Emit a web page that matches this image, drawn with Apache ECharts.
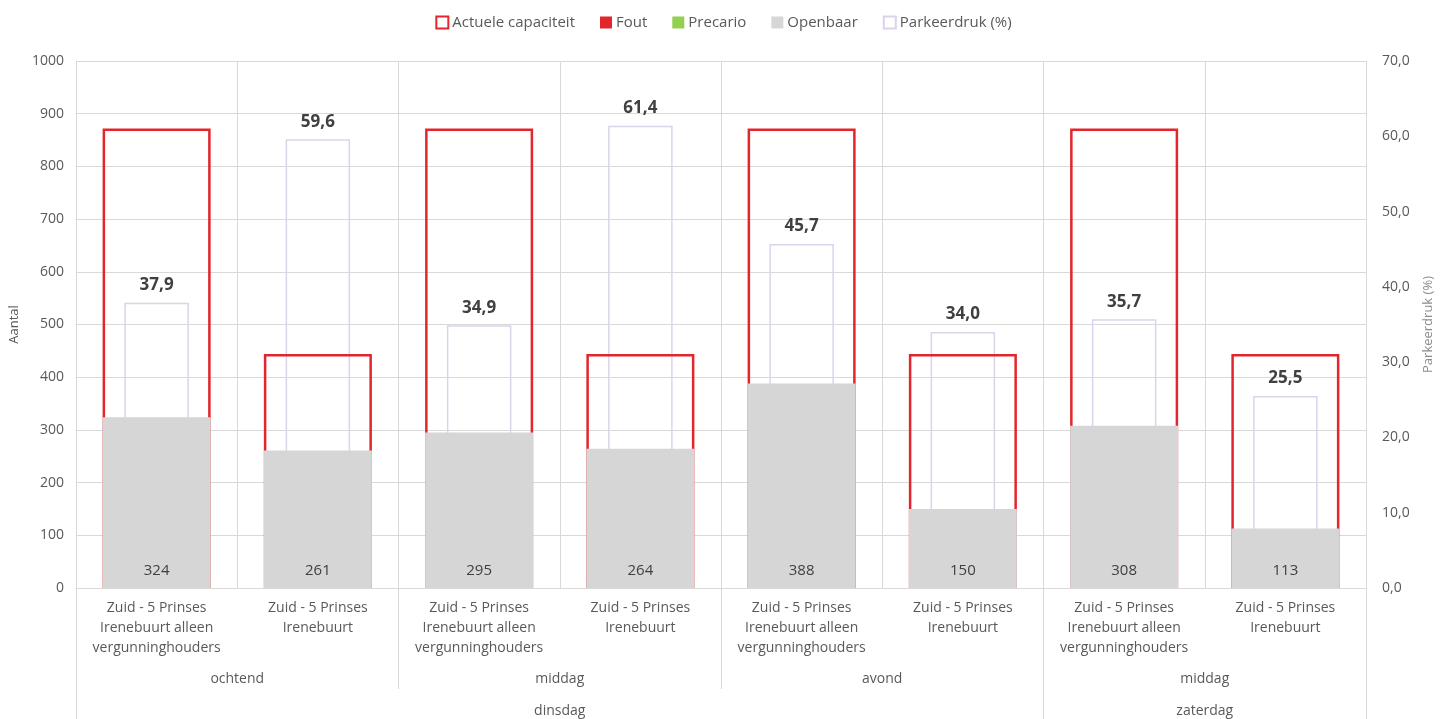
<!DOCTYPE html>
<html>
<head>
<meta charset="utf-8">
<script src="https://cdn.jsdelivr.net/npm/echarts@6/dist/echarts.min.js"></script>
<style>html,body{margin:0;padding:0;background:#fff;}#c{width:1447px;height:719px;}</style>
</head>
<body>
<div id="c"></div>
<script>
const categories = [
  'Zuid - 5 Prinses\nIrenebuurt alleen\nvergunninghouders', 'Zuid - 5 Prinses\nIrenebuurt',
  'Zuid - 5 Prinses\nIrenebuurt alleen\nvergunninghouders', 'Zuid - 5 Prinses\nIrenebuurt',
  'Zuid - 5 Prinses\nIrenebuurt alleen\nvergunninghouders', 'Zuid - 5 Prinses\nIrenebuurt',
  'Zuid - 5 Prinses\nIrenebuurt alleen\nvergunninghouders', 'Zuid - 5 Prinses\nIrenebuurt'
];
const timeLabels = ['ochtend', 'middag', 'avond', 'middag'];
const dayLabels = ['dinsdag', 'zaterdag'];
const daySpans = [6, 2];
const capaciteit = [872, 444, 872, 444, 872, 444, 872, 444];
const fout = [0, 0, 0, 0, 0, 0, 0, 0];
const precario = [0, 0, 0, 0, 0, 0, 0, 0];
const openbaar = [324, 261, 295, 264, 388, 150, 308, 113];
const parkeerdruk = [37.9, 59.6, 34.9, 61.4, 45.7, 34.0, 35.7, 25.5];
const leftTicks = { min: 0, max: 1000, interval: 100 };
const rightTicks = { min: 0, max: 70, interval: 10 };

const n = categories.length;
const timeSpan = n / timeLabels.length;
const timeCenters = timeLabels.map((_, i) => i * timeSpan + timeSpan / 2);
const timeBounds = timeLabels.map((_, i) => (i + 1) * timeSpan).filter(v => v < n);
let acc = 0;
const dayCenters = [], dayBounds = [0];
daySpans.forEach(s => { dayCenters.push(acc + s / 2); acc += s; dayBounds.push(acc); });
const timeOnly = timeBounds.filter(v => dayBounds.indexOf(v) < 0);

const txt = '#595959';
const grid = '#d9d9d9';
const font = 'Open Sans';

const chart = echarts.init(document.getElementById('c'));
chart.setOption({
  animation: false,
  textStyle: { fontFamily: font },
  legend: {
    top: 10, left: 'center', itemWidth: 12, itemHeight: 12, itemGap: 25,
    icon: 'rect',
    textStyle: { color: txt, fontSize: 15, fontFamily: font, padding: [0, 0, 0, -1] },
    data: ['Actuele capaciteit', 'Fout', 'Precario', 'Openbaar', 'Parkeerdruk (%)']
  },
  grid: { left: 76, right: 81, top: 61, bottom: 131, containLabel: false },
  xAxis: [
    {
      type: 'category', data: categories, position: 'bottom',
      axisLine: { show: false }, axisTick: { show: false },
      splitLine: { show: true, lineStyle: { color: grid, width: 1 } },
      axisLabel: { color: txt, fontSize: 14, lineHeight: 20, margin: 10, interval: 0, fontFamily: font }
    },
    { type: 'category', data: categories, show: false },
    {
      type: 'value', min: 0, max: n, position: 'bottom',
      axisLine: { show: false }, splitLine: { show: false },
      axisTick: { show: true, customValues: timeOnly, length: 101, lineStyle: { color: grid } },
      axisLabel: { show: true, customValues: timeCenters, margin: 84, color: txt, fontSize: 14, fontFamily: font,
        formatter: v => timeLabels[timeCenters.indexOf(v)] }
    },
    {
      type: 'value', min: 0, max: n, position: 'bottom',
      axisLine: { show: false }, splitLine: { show: false },
      axisTick: { show: true, customValues: dayBounds, length: 131, lineStyle: { color: grid } },
      axisLabel: { show: true, customValues: dayCenters, margin: 116, color: txt, fontSize: 14, fontFamily: font,
        formatter: v => dayLabels[dayCenters.indexOf(v)] }
    }
  ],
  yAxis: [
    {
      type: 'value', min: leftTicks.min, max: leftTicks.max, interval: leftTicks.interval,
      name: 'Aantal', nameLocation: 'middle', nameRotate: 90, nameGap: 54,
      nameTextStyle: { color: txt, fontSize: 13, fontFamily: font },
      axisLine: { show: false }, axisTick: { show: false },
      axisLabel: { color: txt, fontSize: 14, margin: 12, fontFamily: font, formatter: v => String(v) },
      splitLine: { lineStyle: { color: grid, width: 1 } }
    },
    {
      type: 'value', min: rightTicks.min, max: rightTicks.max, interval: rightTicks.interval,
      name: 'Parkeerdruk (%)', nameLocation: 'middle', nameRotate: 90, nameGap: 56,
      nameTextStyle: { color: '#8c8c8c', fontSize: 13, fontFamily: font },
      axisLine: { show: false }, axisTick: { show: false },
      axisLabel: { color: txt, fontSize: 14, margin: 16, fontFamily: font,
        formatter: v => v.toFixed(1).replace('.', ',') },
      splitLine: { show: false }
    }
  ],
  series: [
    {
      name: 'Actuele capaciteit', type: 'bar', xAxisIndex: 0, yAxisIndex: 0, data: capaciteit,
      barWidth: '67%', barGap: '-100%', z: 3,
      itemStyle: { color: 'rgba(255,255,255,0)', borderColor: '#e3262b', borderWidth: 2.5 }
    },
    {
      name: 'Fout', type: 'bar', xAxisIndex: 0, yAxisIndex: 0, stack: 'occ', data: fout,
      barWidth: '67%', z: 4, itemStyle: { color: '#e3262b' }
    },
    {
      name: 'Precario', type: 'bar', xAxisIndex: 0, yAxisIndex: 0, stack: 'occ', data: precario,
      barWidth: '67%', z: 4, itemStyle: { color: '#92d050' }
    },
    {
      name: 'Openbaar', type: 'bar', xAxisIndex: 0, yAxisIndex: 0, stack: 'occ', data: openbaar,
      barWidth: '67%', z: 4, itemStyle: { color: '#d6d6d6' },
      label: { show: true, position: 'insideBottom', distance: 10, color: '#404040', fontSize: 15, fontFamily: font }
    },
    {
      name: 'Parkeerdruk (%)', type: 'bar', xAxisIndex: 1, yAxisIndex: 1, data: parkeerdruk,
      barWidth: '40%', z: 2,
      itemStyle: { color: 'rgba(255,255,255,0)', borderColor: '#dcd3ea', borderWidth: 1.5 },
      label: { show: true, position: 'top', distance: 9, color: '#404040', fontSize: 17, fontWeight: 'bold', fontFamily: font,
        formatter: p => p.value.toFixed(1).replace('.', ',') }
    }
  ]
});
</script>
</body>
</html>
